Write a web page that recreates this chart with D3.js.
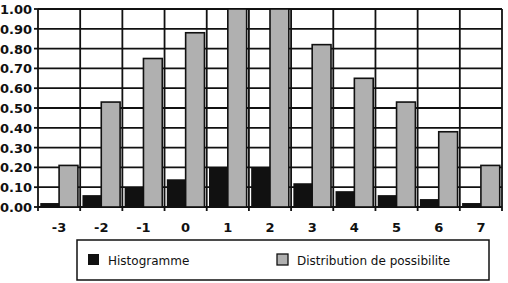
<!DOCTYPE html>
<html>
<head>
<meta charset="utf-8">
<script src="https://cdn.jsdelivr.net/npm/d3@7"></script>
<style>
  body { margin: 0; background: #fff; }
  svg { display: block; }
</style>
</head>
<body>
<svg width="508" height="283"></svg>
<script>
var categories = ["-3", "-2", "-1", "0", "1", "2", "3", "4", "5", "6", "7"];
var histogramme = [0.02, 0.06, 0.10, 0.14, 0.20, 0.20, 0.12, 0.08, 0.06, 0.04, 0.02];
var possibilite = [0.21, 0.53, 0.75, 0.88, 1.00, 1.00, 0.82, 0.65, 0.53, 0.38, 0.21];
var yTicks = [0, 0.1, 0.2, 0.3, 0.4, 0.5, 0.6, 0.7, 0.8, 0.9, 1.0];
var seriesNames = ["Histogramme", "Distribution de possibilite"];

var svg = d3.select("svg"),
    plotLeft = 38, plotRight = 502, plotTop = 9, plotBottom = 207;

var font = "'DejaVu Sans', sans-serif";
var ink = "#111";
var grayFill = "#b0b0b0";

var x = d3.scaleBand().domain(categories).range([plotLeft, plotRight]).paddingInner(0).paddingOuter(0);
var inner = d3.scaleBand().domain([0, 1]).range([0, x.bandwidth()]).paddingInner(0).paddingOuter(0.12);
var y = d3.scaleLinear().domain([0, 1]).range([plotBottom, plotTop]);

// horizontal grid
svg.append("g").selectAll("line")
  .data(yTicks).enter().append("line")
  .attr("x1", plotLeft).attr("x2", plotRight)
  .attr("y1", d => y(d)).attr("y2", d => y(d))
  .attr("stroke", ink).attr("stroke-width", 1.8);

// vertical grid at category boundaries
var bounds = categories.map(c => x(c)).concat([plotRight]);
svg.append("g").selectAll("line")
  .data(bounds).enter().append("line")
  .attr("x1", d => d).attr("x2", d => d)
  .attr("y1", plotTop).attr("y2", plotBottom + 4)
  .attr("stroke", ink).attr("stroke-width", 1.8);

// y ticks
svg.append("g").selectAll("line")
  .data(yTicks).enter().append("line")
  .attr("x1", plotLeft - 4).attr("x2", plotLeft)
  .attr("y1", d => y(d)).attr("y2", d => y(d))
  .attr("stroke", ink).attr("stroke-width", 1.8);

// bars
var groups = svg.append("g").selectAll("g")
  .data(categories).enter().append("g")
  .attr("transform", d => "translate(" + x(d) + ",0)");

groups.append("rect")
  .attr("x", inner(0))
  .attr("width", inner.bandwidth())
  .attr("y", (d, i) => y(histogramme[i]))
  .attr("height", (d, i) => plotBottom - y(histogramme[i]))
  .attr("fill", "#111");

groups.append("rect")
  .attr("x", inner(1))
  .attr("width", inner.bandwidth())
  .attr("y", (d, i) => y(possibilite[i]))
  .attr("height", (d, i) => plotBottom - y(possibilite[i]))
  .attr("fill", grayFill)
  .attr("stroke", ink).attr("stroke-width", 1.6);

// y labels
svg.append("g").selectAll("text")
  .data(yTicks).enter().append("text")
  .attr("x", 32).attr("y", d => y(d) + 5)
  .attr("text-anchor", "end")
  .style("font-family", font).style("font-size", "13px").style("font-weight", "bold")
  .attr("fill", ink)
  .text(d => d.toFixed(2));

// x labels
svg.append("g").selectAll("text")
  .data(categories).enter().append("text")
  .attr("x", d => x(d) + x.bandwidth() / 2).attr("y", 232)
  .attr("text-anchor", "middle")
  .style("font-family", font).style("font-size", "13px").style("font-weight", "bold")
  .attr("fill", ink)
  .text(d => d);

// legend
var legend = svg.append("g");
legend.append("rect")
  .attr("x", 77).attr("y", 240).attr("width", 412).attr("height", 40)
  .attr("fill", "none").attr("stroke", ink).attr("stroke-width", 1.5);

var legendX = [88, 277];
seriesNames.forEach(function(name, i) {
  legend.append("rect")
    .attr("x", legendX[i]).attr("y", 254).attr("width", 11).attr("height", 11)
    .attr("fill", i == 0 ? "#111" : grayFill)
    .attr("stroke", ink).attr("stroke-width", i == 0 ? 0 : 1.3);
  legend.append("text")
    .attr("x", legendX[i] + 20).attr("y", 265)
    .style("font-family", font).style("font-size", "12px")
    .attr("fill", ink)
    .text(name);
});
</script>
</body>
</html>
